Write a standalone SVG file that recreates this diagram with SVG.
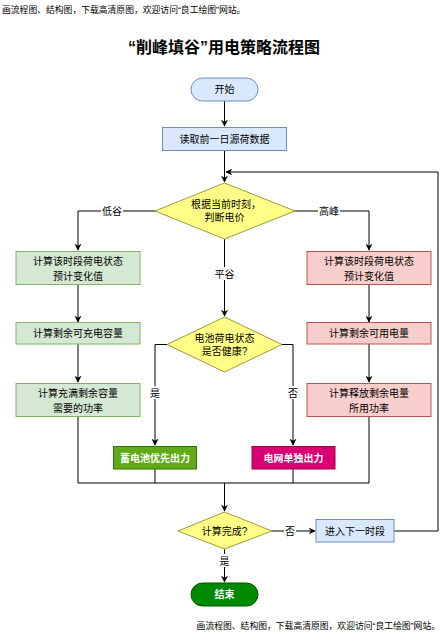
<svg xmlns="http://www.w3.org/2000/svg" width="447" height="637" viewBox="0 0 447 637">
<defs>
<marker id="arr" viewBox="0 0 10 10" refX="9" refY="5" markerWidth="7" markerHeight="7" markerUnits="userSpaceOnUse" orient="auto"><path d="M0,0 L10,5 L0,10 L3,5 Z" fill="#000"/></marker>
<style>
text{font-family:"Liberation Sans","Noto Sans CJK SC",sans-serif;font-size:10px;text-anchor:middle;fill:#000}
.wm{font-size:8.8px;text-anchor:start;fill:#000}
.wmr{font-size:8.8px;text-anchor:end;fill:#000}
.title{font-size:16px;font-weight:bold}
.blue{fill:#dae8fc;stroke:#6c8ebf;stroke-width:1}
.green{fill:#d5e8d4;stroke:#82b366;stroke-width:1}
.red{fill:#f8cecc;stroke:#b85450;stroke-width:1}
.dia{fill:#ffff88;stroke:#9b9b3e;stroke-width:1}
.wb{fill:#fff;font-weight:bold}
.conn path{fill:none;stroke:#000;stroke-width:1}
.lbl{fill:#fff}
</style>
</defs>
<rect width="447" height="637" fill="#fff"/>
<text class="wm" x="2" y="13">画流程图、结构图，下载高清原图，欢迎访问“良工绘图”网站。</text>
<text class="title" x="224" y="53">“削峰填谷”用电策略流程图</text>

<g class="conn">
<path d="M224.5,101 V126" marker-end="url(#arr)"/>
<path d="M224.5,150 V182" marker-end="url(#arr)"/>
<path d="M155,211 H78 V250" marker-end="url(#arr)"/>
<path d="M295,211 H369 V250" marker-end="url(#arr)"/>
<path d="M224.5,239 V316" marker-end="url(#arr)"/>
<path d="M78,285 V322" marker-end="url(#arr)"/>
<path d="M369,285 V322" marker-end="url(#arr)"/>
<path d="M78,344 V382" marker-end="url(#arr)"/>
<path d="M369,344 V382" marker-end="url(#arr)"/>
<path d="M167,344.5 H155 V445" marker-end="url(#arr)"/>
<path d="M282,344.5 H293 V445" marker-end="url(#arr)"/>
<path d="M78,417 V483 H369 V417"/>
<path d="M155,469 V483"/>
<path d="M293,469 V483"/>
<path d="M224.5,483 V511" marker-end="url(#arr)"/>
<path d="M272,531 H315" marker-end="url(#arr)"/>
<path d="M394,531 H438 V172 H226" marker-end="url(#arr)"/>
<path d="M224.5,549 V582" marker-end="url(#arr)"/>
<rect class="lbl" x="101" y="204" width="22" height="13"/>
<text x="112" y="214.5">低谷</text>
<rect class="lbl" x="318" y="204" width="22" height="13"/>
<text x="329" y="214.5">高峰</text>
<rect class="lbl" x="213" y="267" width="23" height="13"/>
<text x="224.5" y="277.5">平谷</text>
<rect class="lbl" x="149" y="386" width="12" height="13"/>
<text x="155" y="396.5">是</text>
<rect class="lbl" x="287" y="386" width="12" height="13"/>
<text x="293" y="396.5">否</text>
<rect class="lbl" x="284" y="524" width="12" height="13"/>
<text x="290" y="534.5">否</text>
<rect class="lbl" x="219" y="554" width="12" height="13"/>
<text x="224.5" y="564.5">是</text>
</g>

<g id="start"><rect class="blue" x="191" y="78" width="67" height="23" rx="11.5"/><text x="224.5" y="93">开始</text></g>
<g id="read"><rect class="blue" x="162.5" y="127.5" width="124" height="23"/><text x="224.5" y="142.5">读取前一日源荷数据</text></g>
<g id="judge"><polygon class="dia" points="224.5,183 295,211 224.5,239 155,211"/><text x="226" y="208">根据当前时刻，</text><text x="224.5" y="221">判断电价</text></g>
<g id="g1"><rect class="green" x="16" y="251.5" width="124" height="33"/><text x="78" y="264.5">计算该时段荷电状态</text><text x="78" y="279.5">预计变化值</text></g>
<g id="r1"><rect class="red" x="307" y="251.5" width="124" height="33"/><text x="369" y="264.5">计算该时段荷电状态</text><text x="369" y="279.5">预计变化值</text></g>
<g id="g2"><rect class="green" x="16" y="322.5" width="124" height="21.5"/><text x="78" y="337">计算剩余可充电容量</text></g>
<g id="r2"><rect class="red" x="307" y="322.5" width="124" height="21.5"/><text x="369" y="337">计算剩余可用电量</text></g>
<g id="health"><polygon class="dia" points="224.5,317 282,344.5 224.5,372 167,344.5"/><text x="224.5" y="342">电池荷电状态</text><text x="224.5" y="355">是否健康?</text></g>
<g id="g3"><rect class="green" x="16" y="383.5" width="124" height="33"/><text x="78" y="397">计算充满剩余容量</text><text x="78" y="411.5">需要的功率</text></g>
<g id="r3"><rect class="red" x="307" y="383.5" width="124" height="33"/><text x="369" y="397">计算释放剩余电量</text><text x="369" y="411.5">所用功率</text></g>
<g id="battery"><rect x="113.5" y="446.5" width="83" height="22.5" fill="#60a917" stroke="#2d7600"/><text class="wb" x="155" y="461.5">蓄电池优先出力</text></g>
<g id="grid"><rect x="252" y="446.5" width="83" height="22.5" fill="#d80073" stroke="#a50040"/><text class="wb" x="293.5" y="461.5">电网单独出力</text></g>
<g id="done"><polygon class="dia" points="224.5,512 272,531 224.5,549 178,531"/><text x="224.5" y="534.5">计算完成?</text></g>
<g id="next"><rect class="blue" x="316" y="519.5" width="78" height="22.5"/><text x="355" y="534.5">进入下一时段</text></g>
<g id="end"><rect x="191" y="583" width="67" height="23" rx="11.5" fill="#008a00" stroke="#005700"/><text class="wb" x="224.5" y="598">结束</text></g>

<text class="wmr" x="440" y="629">画流程图、结构图，下载高清原图，欢迎访问“良工绘图”网站。</text>
</svg>
